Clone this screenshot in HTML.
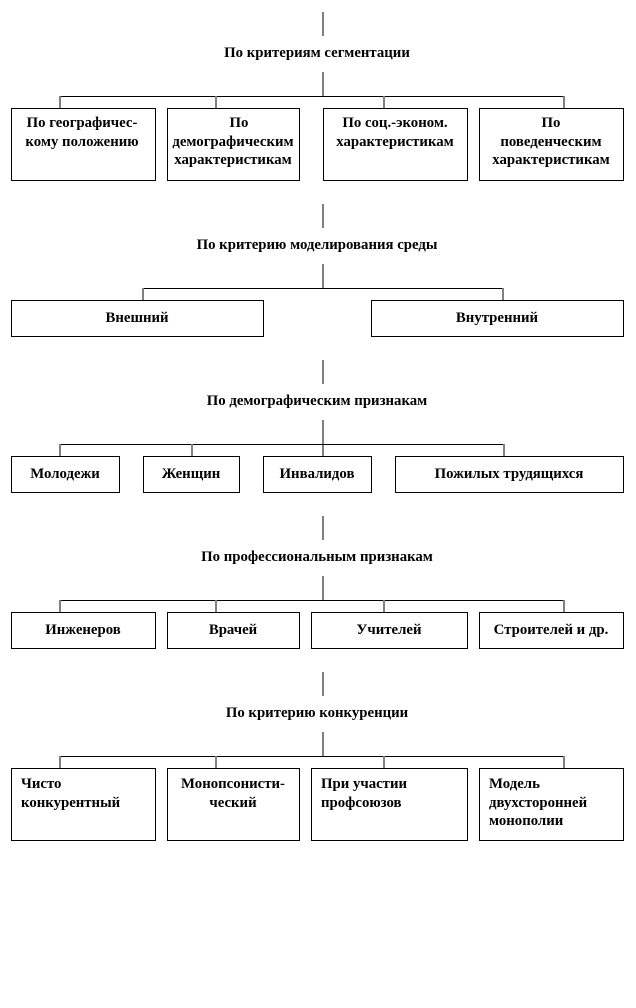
<!DOCTYPE html>
<html><head><meta charset="utf-8"><style>
html,body{margin:0;padding:0;background:#fff;}
svg{display:block;}
text{font-family:"Liberation Serif",serif;font-weight:bold;font-size:14.8px;fill:#000;}
.g{stroke:#808080;stroke-width:2;}
.h{stroke:#000;stroke-width:1;}
rect{fill:#fff;stroke:#000;stroke-width:1;}
</style></head><body>
<svg width="636" height="1008" viewBox="0 0 636 1008">
<!-- Section 1 -->
<line class="g" x1="323" y1="12" x2="323" y2="36"/>
<text x="317" y="57" text-anchor="middle">По критериям сегментации</text>
<line class="g" x1="323" y1="72" x2="323" y2="96"/>
<line class="h" x1="60" y1="96.5" x2="564" y2="96.5"/>
<line class="g" x1="60" y1="96" x2="60" y2="108"/>
<line class="g" x1="216" y1="96" x2="216" y2="108"/>
<line class="g" x1="384" y1="96" x2="384" y2="108"/>
<line class="g" x1="564" y1="96" x2="564" y2="108"/>
<rect x="11.5" y="108.5" width="144" height="72"/>
<rect x="167.5" y="108.5" width="132" height="72"/>
<rect x="323.5" y="108.5" width="144" height="72"/>
<rect x="479.5" y="108.5" width="144" height="72"/>
<text x="82" y="127" text-anchor="middle">По географичес-</text>
<text x="82" y="146" text-anchor="middle">кому положению</text>
<text x="239" y="127" text-anchor="middle">По</text>
<text x="233" y="146" text-anchor="middle">демографическим</text>
<text x="233" y="164" text-anchor="middle">характеристикам</text>
<text x="395" y="127" text-anchor="middle">По соц.-эконом.</text>
<text x="395" y="146" text-anchor="middle">характеристикам</text>
<text x="551" y="127" text-anchor="middle">По</text>
<text x="551" y="146" text-anchor="middle">поведенческим</text>
<text x="551" y="164" text-anchor="middle">характеристикам</text>

<!-- Section 2 -->
<line class="g" x1="323" y1="204" x2="323" y2="228"/>
<text x="317" y="249" text-anchor="middle">По критерию моделирования среды</text>
<line class="g" x1="323" y1="264" x2="323" y2="288"/>
<line class="h" x1="143" y1="288.5" x2="503" y2="288.5"/>
<line class="g" x1="143" y1="288" x2="143" y2="300"/>
<line class="g" x1="503" y1="288" x2="503" y2="300"/>
<rect x="11.5" y="300.5" width="252" height="36"/>
<rect x="371.5" y="300.5" width="252" height="36"/>
<text x="137" y="322" text-anchor="middle">Внешний</text>
<text x="497" y="322" text-anchor="middle">Внутренний</text>

<!-- Section 3 -->
<line class="g" x1="323" y1="360" x2="323" y2="384"/>
<text x="317" y="405" text-anchor="middle">По демографическим признакам</text>
<line class="g" x1="323" y1="420" x2="323" y2="456"/>
<line class="h" x1="60" y1="444.5" x2="504" y2="444.5"/>
<line class="g" x1="60" y1="444" x2="60" y2="456"/>
<line class="g" x1="192" y1="444" x2="192" y2="456"/>
<line class="g" x1="504" y1="444" x2="504" y2="456"/>
<rect x="11.5" y="456.5" width="108" height="36"/>
<rect x="143.5" y="456.5" width="96" height="36"/>
<rect x="263.5" y="456.5" width="108" height="36"/>
<rect x="395.5" y="456.5" width="228" height="36"/>
<text x="65" y="478" text-anchor="middle">Молодежи</text>
<text x="191" y="478" text-anchor="middle">Женщин</text>
<text x="317" y="478" text-anchor="middle">Инвалидов</text>
<text x="509" y="478" text-anchor="middle">Пожилых трудящихся</text>

<!-- Section 4 -->
<line class="g" x1="323" y1="516" x2="323" y2="540"/>
<text x="317" y="561" text-anchor="middle">По профессиональным признакам</text>
<line class="g" x1="323" y1="576" x2="323" y2="600"/>
<line class="h" x1="60" y1="600.5" x2="564" y2="600.5"/>
<line class="g" x1="60" y1="600" x2="60" y2="612"/>
<line class="g" x1="216" y1="600" x2="216" y2="612"/>
<line class="g" x1="384" y1="600" x2="384" y2="612"/>
<line class="g" x1="564" y1="600" x2="564" y2="612"/>
<rect x="11.5" y="612.5" width="144" height="36"/>
<rect x="167.5" y="612.5" width="132" height="36"/>
<rect x="311.5" y="612.5" width="156" height="36"/>
<rect x="479.5" y="612.5" width="144" height="36"/>
<text x="83" y="634" text-anchor="middle">Инженеров</text>
<text x="233" y="634" text-anchor="middle">Врачей</text>
<text x="389" y="634" text-anchor="middle">Учителей</text>
<text x="551" y="634" text-anchor="middle">Строителей и др.</text>

<!-- Section 5 -->
<line class="g" x1="323" y1="672" x2="323" y2="696"/>
<text x="317" y="717" text-anchor="middle">По критерию конкуренции</text>
<line class="g" x1="323" y1="732" x2="323" y2="756"/>
<line class="h" x1="60" y1="756.5" x2="564" y2="756.5"/>
<line class="g" x1="60" y1="756" x2="60" y2="768"/>
<line class="g" x1="216" y1="756" x2="216" y2="768"/>
<line class="g" x1="384" y1="756" x2="384" y2="768"/>
<line class="g" x1="564" y1="756" x2="564" y2="768"/>
<rect x="11.5" y="768.5" width="144" height="72"/>
<rect x="167.5" y="768.5" width="132" height="72"/>
<rect x="311.5" y="768.5" width="156" height="72"/>
<rect x="479.5" y="768.5" width="144" height="72"/>
<text x="21" y="788">Чисто</text>
<text x="21" y="807">конкурентный</text>
<text x="233" y="788" text-anchor="middle">Монопсонисти-</text>
<text x="233" y="807" text-anchor="middle">ческий</text>
<text x="321" y="788">При участии</text>
<text x="321" y="807">профсоюзов</text>
<text x="489" y="788">Модель</text>
<text x="489" y="807">двухсторонней</text>
<text x="489" y="825">монополии</text>
</svg>
</body></html>
